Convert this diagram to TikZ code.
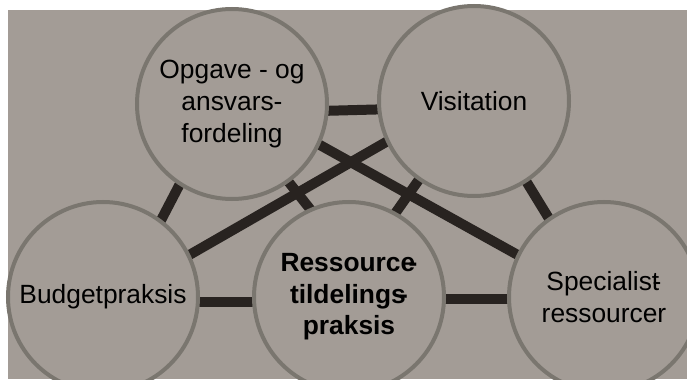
\documentclass[tikz,border=0pt]{standalone}
\usepackage{fontspec}
\setmainfont{Liberation Sans}
\usetikzlibrary{backgrounds}

\definecolor{bggray}{RGB}{163,156,150}
\definecolor{ringgray}{RGB}{122,118,111}
\definecolor{linkdark}{RGB}{40,35,32}

\begin{document}
\begin{tikzpicture}[x=0.03cm, y=0.03cm,
  font=\fontsize{22.5}{27}\selectfont,
  blob/.style={circle, draw=ringgray, line width=0.12cm, fill=bggray,
    minimum size=5.7cm, inner sep=0pt, align=center},
  link/.style={draw=linkdark, line width=0.3cm, shorten <=-3pt, shorten >=-3pt}]

\useasboundingbox (0,0) rectangle (687,379);
\clip (0,0) rectangle (687,379);

% the five circles
\node[blob] (opg) at (232,275) {Opgave - og\\ansvars-\\fordeling};
\node[blob] (vis) at (474,278) {Visitation};
\node[blob] (bud) at (103,82) {Budgetpraksis};
\node[blob] (res) at (349,82) {\bfseries Ressource\kern-0.25em-\\\bfseries tildelings\kern-0.25em-\\\bfseries praksis};
\node[blob] (spe) at (604,82) {Specialist\kern-0.25em-\\ressourcer};

% background and the links behind the circles
\begin{pgfonlayer}{background}
\fill[bggray] (8,0) rectangle (687,369);

\draw[link] (opg.-4) -- (vis.185);
\draw[link] (opg.237) -- (bud.53);
\draw[link] (opg.-54) -- (res.114);
\draw[link] (opg.-25) -- (spe.154);
\draw[link] (vis.205) -- (bud.26);
\draw[link] (vis.235) -- (res.61);
\draw[link] (vis.-57) -- (spe.125);
\draw[link] (bud.-3) -- (res.183);
\draw[link] (res.-1) -- (spe.181);
\end{pgfonlayer}

\end{tikzpicture}
\end{document}
